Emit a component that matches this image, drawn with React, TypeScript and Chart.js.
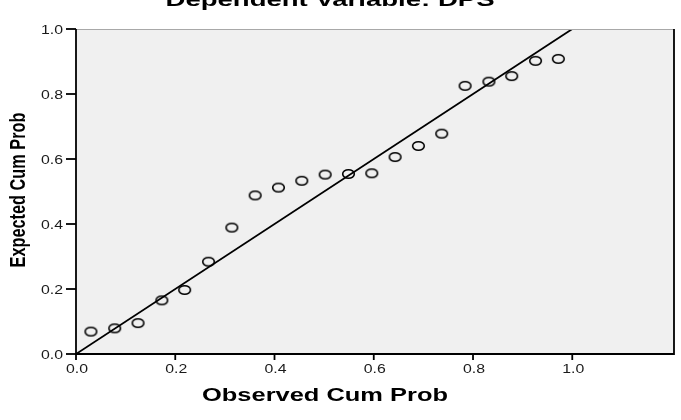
import React, { useEffect, useRef } from "react";
import { Chart, registerables } from "chart.js";

Chart.register(...registerables);

const observedCumProb = [0.030, 0.078, 0.125, 0.173, 0.219, 0.267, 0.314, 0.361, 0.408, 0.455, 0.502, 0.549, 0.596, 0.643, 0.690, 0.737, 0.784, 0.832, 0.878, 0.926, 0.972];
const expectedCumProb = [0.069, 0.079, 0.095, 0.165, 0.197, 0.284, 0.389, 0.488, 0.512, 0.533, 0.552, 0.554, 0.556, 0.606, 0.640, 0.678, 0.825, 0.838, 0.855, 0.902, 0.908];
const xTickValues = [0, 0.2, 0.4, 0.6, 0.8, 1.0];
const xTickLabels = ["0.0", "0.2", "0.4", "0.6", "0.8", "1.0"];
const yTickValues = [0, 0.2, 0.4, 0.6, 0.8, 1.0];
const yTickLabels = ["0.0", "0.2", "0.4", "0.6", "0.8", "1.0"];
const chartTitle = "Dependent Variable: DPS";
const xTitle = "Observed Cum Prob";
const yTitle = "Expected Cum Prob";

const FONT = "'Liberation Sans', Arial, sans-serif";
const SX = 1.32;

function makeEllipse(): HTMLCanvasElement {
  const c = document.createElement("canvas");
  c.width = 15;
  c.height = 12;
  const g = c.getContext("2d")!;
  g.strokeStyle = "#000";
  g.lineWidth = 1.6;
  g.beginPath();
  g.ellipse(7.5, 6, 5.8, 4.3, 0, 0, Math.PI * 2);
  g.stroke();
  return c;
}

function drawText(ctx: CanvasRenderingContext2D, text: string, x: number, y: number, sx: number, align: CanvasTextAlign, baseline: CanvasTextBaseline, rotate = false) {
  ctx.save();
  ctx.translate(x, y);
  ctx.scale(sx, 1);
  if (rotate) ctx.rotate(-Math.PI / 2);
  ctx.textAlign = align;
  ctx.textBaseline = baseline;
  ctx.fillText(text, 0, 0);
  ctx.restore();
}

const decorPlugin = {
  id: "decor",
  beforeDraw(chart: any) {
    const { ctx, chartArea: a } = chart;
    ctx.save();
    ctx.fillStyle = "#f0f0f0";
    ctx.fillRect(a.left, a.top, a.right - a.left, a.bottom - a.top);
    ctx.restore();
  },
  afterDraw(chart: any) {
    const { ctx, chartArea: a, scales } = chart;
    const xs = scales.x;
    const ys = scales.y;
    ctx.save();
    // borders
    ctx.strokeStyle = "#a8a8a8";
    ctx.lineWidth = 1;
    ctx.beginPath();
    ctx.moveTo(a.left, a.top + 0.5);
    ctx.lineTo(a.right, a.top + 0.5);
    ctx.stroke();
    ctx.strokeStyle = "#000";
    ctx.lineWidth = 1.8;
    ctx.beginPath();
    ctx.moveTo(a.left, a.top);
    ctx.lineTo(a.left, a.bottom);
    ctx.lineTo(a.right, a.bottom);
    ctx.lineTo(a.right, a.top);
    ctx.stroke();

    // y ticks
    ctx.fillStyle = "#1a1a1a";
    ctx.font = `12px ${FONT}`;
    yTickValues.forEach((v, i) => {
      const py = ys.getPixelForValue(v);
      ctx.beginPath();
      ctx.moveTo(a.left - 10, py);
      ctx.lineTo(a.left, py);
      ctx.stroke();
      drawText(ctx, yTickLabels[i], a.left - 13, py + 5, SX, "right", "alphabetic");
    });
    // x ticks
    xTickValues.forEach((v, i) => {
      const px = xs.getPixelForValue(v);
      ctx.beginPath();
      ctx.moveTo(px, a.bottom);
      ctx.lineTo(px, a.bottom + 6);
      ctx.stroke();
      drawText(ctx, xTickLabels[i], px + 1, a.bottom + 19, SX, "center", "alphabetic");
    });

    ctx.fillStyle = "#000";
    // x axis title
    ctx.font = `bold 18px ${FONT}`;
    let w = ctx.measureText(xTitle).width;
    drawText(ctx, xTitle, 325, 401, 246 / w, "center", "alphabetic");
    // chart title (cut at top)
    w = ctx.measureText(chartTitle).width;
    drawText(ctx, chartTitle, 330, 6, 329 / w, "center", "alphabetic");
    // y axis title
    ctx.font = `bold 17px ${FONT}`;
    w = ctx.measureText(yTitle).width;
    const fs = 17 * 155 / w;
    ctx.font = `bold ${fs}px ${FONT}`;
    drawText(ctx, yTitle, 19, 190, SX, "center", "middle", true);
    ctx.restore();
  },
};

export default function App() {
  const ref = useRef<HTMLCanvasElement>(null);
  useEffect(() => {
    const ellipse = makeEllipse();
    const points = observedCumProb.map((x, i) => ({ x, y: expectedCumProb[i] }));
    const chart = new Chart(ref.current!, {
      type: "scatter",
      data: {
        datasets: [
          {
            type: "line",
            data: [{ x: 0, y: 0 }, { x: 1, y: 1 }],
            borderColor: "#000",
            borderWidth: 1.8,
            pointRadius: 0,
            fill: false,
          } as any,
          {
            data: points,
            pointStyle: ellipse as any,
            pointRadius: 6,
            pointHoverRadius: 6,
          },
        ],
      },
      options: {
        animation: false,
        responsive: false,
        devicePixelRatio: 1,
        layout: { padding: { left: 76, right: 6, top: 29, bottom: 66 } },
        plugins: { legend: { display: false }, tooltip: { enabled: false }, title: { display: false } },
        scales: {
          x: { type: "linear", min: 0, max: 1.205, display: false },
          y: { type: "linear", min: 0, max: 1, display: false },
        },
      },
      plugins: [decorPlugin],
    });
    return () => chart.destroy();
  }, []);
  return (
    <div style={{ position: "absolute", left: 0, top: 0, width: 681, height: 420, background: "#fff" }}>
      <canvas ref={ref} width={681} height={420} style={{ display: "block" }} />
    </div>
  );
}
